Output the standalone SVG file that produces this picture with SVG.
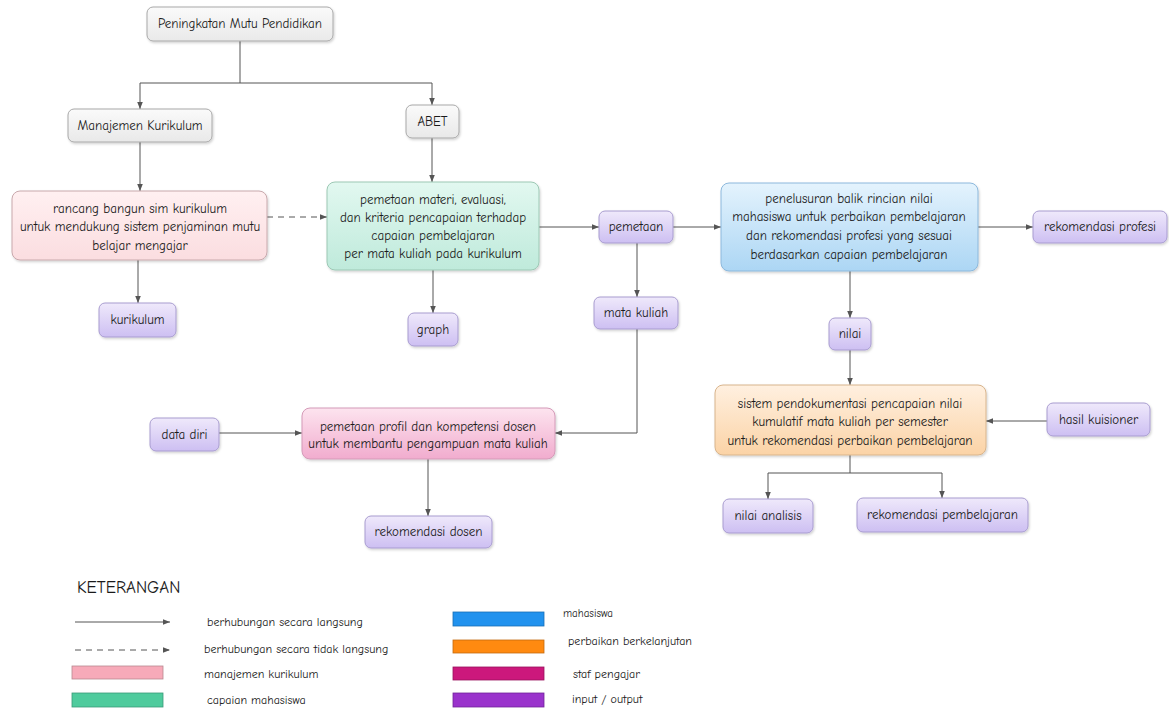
<svg xmlns="http://www.w3.org/2000/svg" width="1169" height="711" viewBox="0 0 1169 711">
  <style>
    text { font-family: "Comic Sans MS", "Comic Neue", "Noto Sans", sans-serif; fill: #1a1a1a; }
    .t { font-size: 13px; text-anchor: middle; }
    .lg { font-size: 12px; }
    .box { stroke-width: 1; filter: url(#shadow); }
    .gray { fill: url(#gGray); stroke: #a8a8a8; }
    .pink { fill: url(#gPink); stroke: #c8a8ac; }
    .green { fill: url(#gGreen); stroke: #9cc8b4; }
    .blue { fill: url(#gBlue); stroke: #8cb8dc; }
    .orange { fill: url(#gOrange); stroke: #d8b48c; }
    .rose { fill: url(#gRose); stroke: #d49ab8; }
    .io { fill: url(#gIo); stroke: #a89cd0; }
    .conn { fill: none; stroke: #555; stroke-width: 1; marker-end: url(#arrow); }
    .dash { stroke-dasharray: 6 5; }
  </style>
  <defs>
    <marker id="arrow" viewBox="0 0 8 8" refX="8" refY="4" markerWidth="7" markerHeight="7" orient="auto" markerUnits="userSpaceOnUse">
      <path d="M0,0.8 L8,4 L0,7.2 Z" fill="#555"/>
    </marker>
    <filter id="shadow" x="-10%" y="-20%" width="130%" height="150%">
      <feDropShadow dx="1" dy="1.5" stdDeviation="1.2" flood-color="#000" flood-opacity="0.18"/>
    </filter>
    <linearGradient id="gGray" x1="0" y1="0" x2="0" y2="1">
      <stop offset="0" stop-color="#fafafa"/><stop offset="1" stop-color="#e9e9e9"/>
    </linearGradient>
    <linearGradient id="gPink" x1="0" y1="0" x2="0" y2="1">
      <stop offset="0" stop-color="#fff0f1"/><stop offset="1" stop-color="#fbdde0"/>
    </linearGradient>
    <linearGradient id="gGreen" x1="0" y1="0" x2="0" y2="1">
      <stop offset="0" stop-color="#e2f8f0"/><stop offset="1" stop-color="#bfeadb"/>
    </linearGradient>
    <linearGradient id="gBlue" x1="0" y1="0" x2="0" y2="1">
      <stop offset="0" stop-color="#e4f3fd"/><stop offset="1" stop-color="#acd6f4"/>
    </linearGradient>
    <linearGradient id="gOrange" x1="0" y1="0" x2="0" y2="1">
      <stop offset="0" stop-color="#fff0e0"/><stop offset="1" stop-color="#fbd3a6"/>
    </linearGradient>
    <linearGradient id="gRose" x1="0" y1="0" x2="0" y2="1">
      <stop offset="0" stop-color="#fde4ef"/><stop offset="1" stop-color="#f1acce"/>
    </linearGradient>
    <linearGradient id="gIo" x1="0" y1="0" x2="0" y2="1">
      <stop offset="0" stop-color="#efe9fb"/><stop offset="1" stop-color="#cdbff2"/>
    </linearGradient>
  </defs>

  <rect width="1169" height="711" fill="#ffffff"/>

  <!-- connectors -->
  <g id="connectors">
    <path class="conn" d="M240,41 V83 H140 V109"/>
    <path class="conn" d="M240,83 H432 V105"/>
    <path class="conn" d="M140,142 V191"/>
    <path class="conn" d="M432,138 V182"/>
    <path class="conn dash" d="M267,217 H327"/>
    <path class="conn" d="M138,260 V303"/>
    <path class="conn" d="M433,270 V313"/>
    <path class="conn" d="M539,227 H599"/>
    <path class="conn" d="M673,227 H721"/>
    <path class="conn" d="M637,243 V297"/>
    <path class="conn" d="M637,329 V433 H555"/>
    <path class="conn" d="M219,433 H302"/>
    <path class="conn" d="M428,459 V516"/>
    <path class="conn" d="M978,227 H1033"/>
    <path class="conn" d="M850,271 V318"/>
    <path class="conn" d="M850,350 V385"/>
    <path class="conn" d="M1047,421 H986"/>
    <path class="conn" d="M850,455 V473 H768 V499"/>
    <path class="conn" d="M850,473 H942 V498"/>
  </g>

  <!-- nodes -->
  <g id="n-peningkatan">
    <rect class="box gray" x="147" y="7" width="186" height="34" rx="6"/>
    <text class="t" x="240" y="28">Peningkatan Mutu Pendidikan</text>
  </g>
  <g id="n-manajemen">
    <rect class="box gray" x="68" y="109" width="144" height="33" rx="6"/>
    <text class="t" x="140" y="130">Manajemen Kurikulum</text>
  </g>
  <g id="n-abet">
    <rect class="box gray" x="406" y="105" width="53" height="33" rx="6"/>
    <text class="t" x="432.5" y="126">ABET</text>
  </g>
  <g id="n-rancang">
    <rect class="box pink" x="12" y="191" width="255" height="69" rx="8"/>
    <text class="t" x="140" y="213">rancang bangun sim kurikulum</text>
    <text class="t" x="140" y="231">untuk mendukung sistem penjaminan mutu</text>
    <text class="t" x="140" y="250">belajar mengajar</text>
  </g>
  <g id="n-pemetaan-materi">
    <rect class="box green" x="327" y="182" width="212" height="88" rx="8"/>
    <text class="t" x="433" y="204">pemetaan materi, evaluasi,</text>
    <text class="t" x="433" y="222">dan kriteria pencapaian terhadap</text>
    <text class="t" x="433" y="240">capaian pembelajaran</text>
    <text class="t" x="433" y="258">per mata kuliah pada kurikulum</text>
  </g>
  <g id="n-pemetaan">
    <rect class="box io" x="599" y="211" width="74" height="32" rx="6"/>
    <text class="t" x="636" y="231">pemetaan</text>
  </g>
  <g id="n-penelusuran">
    <rect class="box blue" x="721" y="183" width="257" height="88" rx="8"/>
    <text class="t" x="849" y="203">penelusuran balik rincian nilai</text>
    <text class="t" x="849" y="221">mahasiswa untuk perbaikan pembelajaran</text>
    <text class="t" x="849" y="240">dan rekomendasi profesi yang sesuai</text>
    <text class="t" x="849" y="259">berdasarkan capaian pembelajaran</text>
  </g>
  <g id="n-rek-profesi">
    <rect class="box io" x="1033" y="211" width="134" height="32" rx="6"/>
    <text class="t" x="1100" y="231">rekomendasi profesi</text>
  </g>
  <g id="n-kurikulum">
    <rect class="box io" x="99" y="303" width="77" height="34" rx="6"/>
    <text class="t" x="137.5" y="324">kurikulum</text>
  </g>
  <g id="n-graph">
    <rect class="box io" x="408" y="313" width="50" height="33" rx="6"/>
    <text class="t" x="433" y="334">graph</text>
  </g>
  <g id="n-mata-kuliah">
    <rect class="box io" x="594" y="297" width="84" height="32" rx="6"/>
    <text class="t" x="636" y="317">mata kuliah</text>
  </g>
  <g id="n-nilai">
    <rect class="box io" x="829" y="318" width="42" height="32" rx="6"/>
    <text class="t" x="850" y="338">nilai</text>
  </g>
  <g id="n-data-diri">
    <rect class="box io" x="150" y="418" width="69" height="33" rx="6"/>
    <text class="t" x="184.5" y="439">data diri</text>
  </g>
  <g id="n-profil-dosen">
    <rect class="box rose" x="302" y="408" width="253" height="51" rx="8"/>
    <text class="t" x="428" y="431">pemetaan profil dan kompetensi dosen</text>
    <text class="t" x="428" y="448">untuk membantu pengampuan mata kuliah</text>
  </g>
  <g id="n-rek-dosen">
    <rect class="box io" x="365" y="516" width="127" height="32" rx="6"/>
    <text class="t" x="428.5" y="536">rekomendasi dosen</text>
  </g>
  <g id="n-dokumentasi">
    <rect class="box orange" x="715" y="385" width="271" height="70" rx="8"/>
    <text class="t" x="850" y="408">sistem pendokumentasi pencapaian nilai</text>
    <text class="t" x="850" y="426">kumulatif mata kuliah per semester</text>
    <text class="t" x="850" y="445">untuk rekomendasi perbaikan pembelajaran</text>
  </g>
  <g id="n-kuisioner">
    <rect class="box io" x="1047" y="403" width="103" height="33" rx="6"/>
    <text class="t" x="1098.5" y="424">hasil kuisioner</text>
  </g>
  <g id="n-nilai-analisis">
    <rect class="box io" x="723" y="499" width="90" height="34" rx="6"/>
    <text class="t" x="768" y="520">nilai analisis</text>
  </g>
  <g id="n-rek-pembelajaran">
    <rect class="box io" x="857" y="498" width="171" height="34" rx="6"/>
    <text class="t" x="942.5" y="519">rekomendasi pembelajaran</text>
  </g>

  <!-- legend -->
  <g id="legend">
    <text x="77" y="593" style="font-size:17px">KETERANGAN</text>
    <path class="conn" d="M75,622 H170"/>
    <text class="lg" x="207" y="626">berhubungan secara langsung</text>
    <path class="conn dash" d="M75,650 H170"/>
    <text class="lg" x="204" y="653">berhubungan secara tidak langsung</text>
    <rect x="72" y="666" width="91" height="13" fill="#f7aab9" stroke="#b88890" stroke-width="0.8"/>
    <text class="lg" x="204" y="678">manajemen kurikulum</text>
    <rect x="72" y="693" width="91" height="14" fill="#4fcb9d" stroke="#3a9a78" stroke-width="0.8"/>
    <text class="lg" x="207" y="704">capaian mahasiswa</text>
    <rect x="453" y="612" width="91" height="14" fill="#2192ee" stroke="#1a6fb4" stroke-width="0.8"/>
    <text class="lg" x="563" y="617" style="font-size:11px">mahasiswa</text>
    <rect x="453" y="640" width="91" height="13" fill="#ff8a10" stroke="#c46a10" stroke-width="0.8"/>
    <text class="lg" x="568" y="645">perbaikan berkelanjutan</text>
    <rect x="453" y="667" width="91" height="13" fill="#cc187c" stroke="#98125c" stroke-width="0.8"/>
    <text class="lg" x="573" y="678">staf pengajar</text>
    <rect x="453" y="693" width="91" height="14" fill="#9a33cc" stroke="#72259a" stroke-width="0.8"/>
    <text class="lg" x="572" y="703">input / output</text>
  </g>
</svg>
